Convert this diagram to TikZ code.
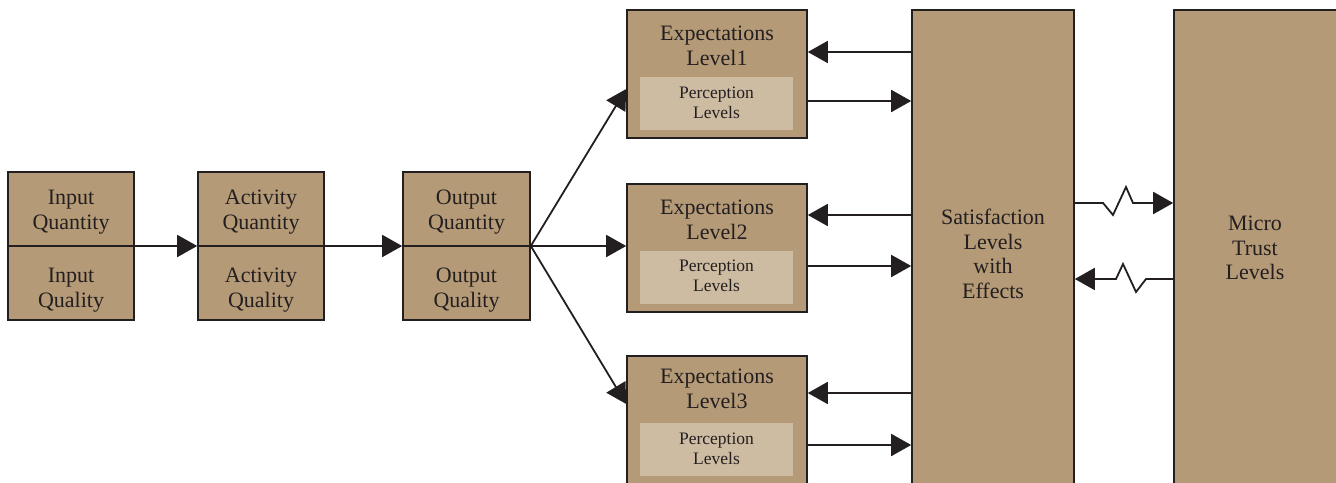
\documentclass[tikz,border=0pt]{standalone}
\usepackage{fontspec}
\setmainfont{Liberation Serif}
\usetikzlibrary{arrows.meta}
\definecolor{boxfill}{RGB}{181,154,119}
\definecolor{innerfill}{RGB}{205,188,162}
\definecolor{ink}{RGB}{35,31,32}
\begin{document}
\begin{tikzpicture}[x=1pt,y=-1pt,
  box/.style={draw=ink, fill=boxfill, line width=1.6pt, inner sep=0pt},
  innerbox/.style={fill=innerfill, draw=none, inner sep=0pt},
  txt/.style={align=center, text=ink, font=\fontsize{22}{24.5}\selectfont, inner sep=0pt},
  smalltxt/.style={align=center, text=ink, font=\fontsize{17.5}{20}\selectfont, inner sep=0pt},
  arr/.style={draw=ink, line width=1.8pt, line join=miter, -{Triangle[length=20pt,width=22pt]}},
  divider/.style={draw=ink, line width=1.8pt}
]
\useasboundingbox (0,0) rectangle (1336,482);
\clip (0,0) rectangle (1336,482);

% left chain
\node[box, minimum width=126pt, minimum height=148pt] (inb) at (71,246) {};
\node[box, minimum width=126pt, minimum height=148pt] (act) at (261,246) {};
\node[box, minimum width=127pt, minimum height=148pt] (outb) at (466.5,246) {};
\draw[divider] (inb.west) -- (inb.east);
\draw[divider] (act.west) -- (act.east);
\draw[divider] (outb.west) -- (outb.east);
\node[txt] (inq) at (71,212) {Input\\Quantity};
\node[txt] (inl) at (71,290) {Input\\Quality};
\node[txt] (acq) at (261,212) {Activity\\Quantity};
\node[txt] (acl) at (261,290) {Activity\\Quality};
\node[txt] (ouq) at (466.5,212) {Output\\Quantity};
\node[txt] (oul) at (466.5,290) {Output\\Quality};

% expectation boxes
\node[box, minimum width=180pt, minimum height=128pt] (e1) at (717,74) {};
\node[box, minimum width=180pt, minimum height=128pt] (e2) at (717,248) {};
\node[box, minimum width=180pt, minimum height=128pt] (e3) at (717,420) {};
\node[innerbox, minimum width=153pt, minimum height=53pt] (p1) at (716.5,103.5) {};
\node[innerbox, minimum width=153pt, minimum height=53pt] (p2) at (716.5,277.5) {};
\node[innerbox, minimum width=153pt, minimum height=53pt] (p3) at (716.5,449.5) {};
\node[txt] (e1t) at (717,46) {Expectations\\Level1};
\node[txt] (e2t) at (717,220) {Expectations\\Level2};
\node[txt] (e3t) at (717,389) {Expectations\\Level3};
\node[smalltxt] (p1t) at (716.5,103) {Perception\\Levels};
\node[smalltxt] (p2t) at (716.5,276) {Perception\\Levels};
\node[smalltxt] (p3t) at (716.5,449) {Perception\\Levels};

% satisfaction and trust
\node[box, minimum width=162pt, minimum height=482pt] (sat) at (993,251) {};
\node[box, minimum width=172pt, minimum height=482pt] (mt) at (1260,251) {};
\node[txt] (satt) at (993,254) {Satisfaction\\Levels\\with\\Effects};
\node[txt] (mtt) at (1255,248) {Micro\\Trust\\Levels};

% connectors
\draw[arr] (inb.east) -- (act.west);
\draw[arr] (act.east) -- (outb.west);
\draw[arr] (outb.east) -- (e2.west |- outb.east);
\draw[arr] (outb.east) -- (e1.west |- 0,89);
\draw[arr] (outb.east) -- (e3.west |- 0,404);

\draw[arr] (sat.west |- 0,52) -- (e1.east |- 0,52);
\draw[arr] (e1.east |- 0,101) -- (sat.west |- 0,101);
\draw[arr] (sat.west |- 0,215) -- (e2.east |- 0,215);
\draw[arr] (e2.east |- 0,266) -- (sat.west |- 0,266);
\draw[arr] (sat.west |- 0,393) -- (e3.east |- 0,393);
\draw[arr] (e3.east |- 0,445) -- (sat.west |- 0,445);

\draw[arr] (sat.east |- 0,203) -- (1103,203) -- (1113,215) -- (1126,187) -- (1133,203) -- (mt.west |- 0,203);
\draw[arr] (mt.west |- 0,279) -- (1146,279) -- (1136,292) -- (1123,264) -- (1116,279) -- (sat.east |- 0,279);
\end{tikzpicture}
\end{document}
